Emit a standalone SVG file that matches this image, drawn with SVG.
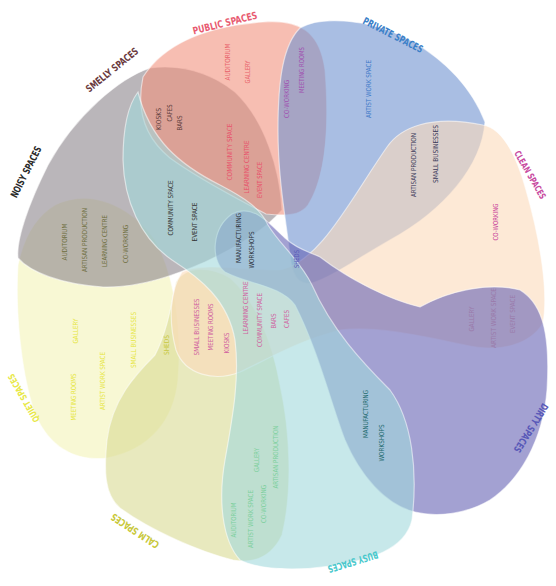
<svg xmlns="http://www.w3.org/2000/svg" width="556" height="586" viewBox="0 0 556 586">
<style>
.p{fill-opacity:0.6;stroke:#ffffff;stroke-opacity:0.55;stroke-width:1.2}
.t{font-family:"DejaVu Sans",sans-serif;font-stretch:condensed;font-weight:normal;font-size:6.8px;text-anchor:middle;dominant-baseline:central}
.L{font-family:"DejaVu Sans",sans-serif;font-stretch:condensed;font-weight:bold;font-size:10px;text-anchor:middle;dominant-baseline:central}
.Ls{font-size:9px}
</style>
<rect width="556" height="586" fill="#ffffff"/>
<g id="petals">
<path id="quiet" class="p" fill="#f3f3b8" d="M55,205 C90,188 130,205 155,240 C175,275 182,330 178,380 C174,420 150,450 107,458 C74,462 46,446 33,408 C21,370 15,310 18,265 C24,235 38,215 55,205 Z"/>
<path id="calm" class="p" fill="#d9da93" d="M233,560 C200,552 150,530 120,508 C104,494 104,470 107,440 C112,400 135,375 155,355 C168,330 172,300 176,282 C185,266 210,266 230,278 C255,300 272,340 280,385 C290,430 293,490 282,535 C272,556 255,564 233,560 Z"/>
<path id="noisy" class="p" fill="#8c868c" d="M150,68 C120,78 75,115 48,165 C28,205 16,240 18,258 C30,272 60,284 103,287 C140,288 175,275 205,262 C235,248 265,230 282,210 C280,170 265,120 235,92 C210,72 180,64 150,68 Z"/>
<path id="public" class="p" fill="#f2937f" d="M143,77 C165,42 210,26 263,22 C300,19 320,32 325,70 C329,120 327,175 308,205 C300,216 285,216 266,214 C240,200 200,180 170,158 C148,140 135,115 143,77 Z"/>
<path id="private" class="p" fill="#7093d0" d="M300,28 C320,16 370,18 410,40 C445,60 472,88 485,122 C482,165 445,210 390,240 C355,260 330,278 312,283 C298,285 292,275 290,255 C286,220 278,180 278,130 C278,80 283,45 300,28 Z"/>
<path id="clean" class="p" fill="#fcdabb" d="M387,147 C400,128 430,114 483,125 C500,128 515,150 526,190 C539,235 549,290 543,323 C530,345 500,352 470,346 C430,338 380,325 340,330 C300,340 270,358 240,372 C215,382 185,375 176,350 C168,320 170,290 182,272 C200,262 240,270 280,270 C320,262 350,200 387,147 Z"/>
<path id="dirty" class="p" fill="#6662b4" d="M420,307 C450,290 490,282 520,290 C545,305 550,340 547,390 C543,440 520,480 490,500 C465,515 435,517 415,512 C385,505 360,475 345,440 C330,400 318,350 295,305 C280,285 250,285 225,272 C210,260 212,228 232,214 C252,203 268,222 285,238 C298,250 310,252 320,257 C350,280 390,300 420,307 Z"/>
<path id="busy" class="p" fill="#a2d9dc" d="M138,92 C150,140 180,165 220,185 C245,198 260,208 268,225 C280,245 300,260 312,285 C332,330 362,362 390,390 C412,420 418,470 412,520 C405,550 370,560 330,566 C290,572 255,568 240,560 C222,540 218,500 225,460 C232,420 240,380 235,340 C228,300 200,278 172,260 C140,238 124,200 123,160 C123,130 128,105 138,92 Z"/>
</g>
<g id="labels">
<text class="L" fill="#e85a70" transform="translate(225 23) rotate(-14)" textLength="66" lengthAdjust="spacingAndGlyphs">PUBLIC SPACES</text>
<text class="L" fill="#3a80c8" transform="translate(393 35) rotate(27)" textLength="66" lengthAdjust="spacingAndGlyphs">PRIVATE SPACES</text>
<text class="L Ls" fill="#c84aa0" transform="translate(530 175) rotate(60)" textLength="54" lengthAdjust="spacingAndGlyphs">CLEAN SPACES</text>
<text class="L" fill="#5858b8" transform="translate(531 428) rotate(122)" textLength="56" lengthAdjust="spacingAndGlyphs">DIRTY SPACES</text>
<text class="L" fill="#48c8cc" transform="translate(353 562) rotate(163)" textLength="52" lengthAdjust="spacingAndGlyphs">BUSY SPACES</text>
<text class="L" fill="#c8c83a" transform="translate(135 531) rotate(213)" textLength="55" lengthAdjust="spacingAndGlyphs">CALM SPACES</text>
<text class="L Ls" fill="#e8e848" transform="translate(24 398) rotate(240)" textLength="54" lengthAdjust="spacingAndGlyphs">QUIET SPACES</text>
<text class="L" fill="#2a2a2a" transform="translate(26 172) rotate(-63)" textLength="56" lengthAdjust="spacingAndGlyphs">NOISY SPACES</text>
<text class="L" fill="#6a3a40" transform="translate(112 70) rotate(-39)" textLength="64" lengthAdjust="spacingAndGlyphs">SMELLY SPACES</text>
</g>
<g id="items">
<text class="t" fill="#e8606a" x="228" y="62" transform="rotate(-90 228 62)" textLength="37" lengthAdjust="spacingAndGlyphs">AUDITORIUM</text>
<text class="t" fill="#e8606a" x="248" y="72" transform="rotate(-90 248 72)" textLength="23" lengthAdjust="spacingAndGlyphs">GALLERY</text>
<text class="t" fill="#a050b0" x="287" y="99" transform="rotate(-90 287 99)" textLength="38" lengthAdjust="spacingAndGlyphs">CO-WORKING</text>
<text class="t" fill="#a050b0" x="302" y="70" transform="rotate(-90 302 70)" textLength="46" lengthAdjust="spacingAndGlyphs">MEETING ROOMS</text>
<text class="t" fill="#3c78c8" x="369" y="89" transform="rotate(-90 369 89)" textLength="58" lengthAdjust="spacingAndGlyphs">ARTIST WORK SPACE</text>
<text class="t" fill="#5a3a3a" x="159" y="119" transform="rotate(-90 159 119)" textLength="22" lengthAdjust="spacingAndGlyphs">KIOSKS</text>
<text class="t" fill="#5a3a3a" x="170" y="113" transform="rotate(-90 170 113)" textLength="17" lengthAdjust="spacingAndGlyphs">CAFES</text>
<text class="t" fill="#5a3a3a" x="180" y="123" transform="rotate(-90 180 123)" textLength="15" lengthAdjust="spacingAndGlyphs">BARS</text>
<text class="t" fill="#e8506a" x="230" y="152" transform="rotate(-90 230 152)" textLength="57" lengthAdjust="spacingAndGlyphs">COMMUNITY SPACE</text>
<text class="t" fill="#e8506a" x="247" y="167" transform="rotate(-90 247 167)" textLength="53" lengthAdjust="spacingAndGlyphs">LEARNING CENTRE</text>
<text class="t" fill="#e8506a" x="260" y="180" transform="rotate(-90 260 180)" textLength="36" lengthAdjust="spacingAndGlyphs">EVENT SPACE</text>
<text class="t" fill="#333333" x="171" y="208" transform="rotate(-90 171 208)" textLength="55" lengthAdjust="spacingAndGlyphs">COMMUNITY SPACE</text>
<text class="t" fill="#333333" x="195" y="222" transform="rotate(-90 195 222)" textLength="39" lengthAdjust="spacingAndGlyphs">EVENT SPACE</text>
<text class="t" fill="#2e3440" x="239" y="238" transform="rotate(-90 239 238)" textLength="50" lengthAdjust="spacingAndGlyphs">MANUFACTURING</text>
<text class="t" fill="#2e3440" x="252" y="250" transform="rotate(-90 252 250)" textLength="37" lengthAdjust="spacingAndGlyphs">WORKSHOPS</text>
<text class="t" fill="#5a5ab8" x="297" y="259" transform="rotate(-90 297 259)" textLength="18" lengthAdjust="spacingAndGlyphs">SHEDS</text>
<text class="t" fill="#6e6e40" x="65" y="242" transform="rotate(-90 65 242)" textLength="37" lengthAdjust="spacingAndGlyphs">AUDITORIUM</text>
<text class="t" fill="#6e6e40" x="85" y="240" transform="rotate(-90 85 240)" textLength="64" lengthAdjust="spacingAndGlyphs">ARTISAN PRODUCTION</text>
<text class="t" fill="#6e6e40" x="105" y="241" transform="rotate(-90 105 241)" textLength="52" lengthAdjust="spacingAndGlyphs">LEARNING CENTRE</text>
<text class="t" fill="#6e6e40" x="126" y="244" transform="rotate(-90 126 244)" textLength="38" lengthAdjust="spacingAndGlyphs">CO-WORKING</text>
<text class="t" fill="#3a3a5a" x="414" y="165" transform="rotate(-90 414 165)" textLength="64" lengthAdjust="spacingAndGlyphs">ARTISAN PRODUCTION</text>
<text class="t" fill="#3a3a5a" x="436" y="154" transform="rotate(-90 436 154)" textLength="58" lengthAdjust="spacingAndGlyphs">SMALL BUSINESSES</text>
<text class="t" fill="#c8409a" x="496" y="222" transform="rotate(-90 496 222)" textLength="37" lengthAdjust="spacingAndGlyphs">CO-WORKING</text>
<text class="t" fill="#9a7aaa" x="472" y="319" transform="rotate(-90 472 319)" textLength="25" lengthAdjust="spacingAndGlyphs">GALLERY</text>
<text class="t" fill="#9a7aaa" x="494" y="318" transform="rotate(-90 494 318)" textLength="60" lengthAdjust="spacingAndGlyphs">ARTIST WORK SPACE</text>
<text class="t" fill="#9a7aaa" x="513" y="314" transform="rotate(-90 513 314)" textLength="38" lengthAdjust="spacingAndGlyphs">EVENT SPACE</text>
<text class="t" fill="#e6e640" x="76" y="331" transform="rotate(-90 76 331)" textLength="25" lengthAdjust="spacingAndGlyphs">GALLERY</text>
<text class="t" fill="#e6e640" x="74" y="397" transform="rotate(-90 74 397)" textLength="47" lengthAdjust="spacingAndGlyphs">MEETING ROOMS</text>
<text class="t" fill="#e6e640" x="103" y="381" transform="rotate(-90 103 381)" textLength="58" lengthAdjust="spacingAndGlyphs">ARTIST WORK SPACE</text>
<text class="t" fill="#e6e640" x="134" y="340" transform="rotate(-90 134 340)" textLength="56" lengthAdjust="spacingAndGlyphs">SMALL BUSINESSES</text>
<text class="t" fill="#c8c840" x="167" y="345" transform="rotate(-90 167 345)" textLength="20" lengthAdjust="spacingAndGlyphs">SHEDS</text>
<text class="t" fill="#d060a0" x="197" y="327" transform="rotate(-90 197 327)" textLength="57" lengthAdjust="spacingAndGlyphs">SMALL BUSINESSES</text>
<text class="t" fill="#d060a0" x="211" y="327" transform="rotate(-90 211 327)" textLength="47" lengthAdjust="spacingAndGlyphs">MEETING ROOMS</text>
<text class="t" fill="#d060a0" x="227" y="343" transform="rotate(-90 227 343)" textLength="21" lengthAdjust="spacingAndGlyphs">KIOSKS</text>
<text class="t" fill="#d060a0" x="246" y="308" transform="rotate(-90 246 308)" textLength="53" lengthAdjust="spacingAndGlyphs">LEARNING CENTRE</text>
<text class="t" fill="#d060a0" x="260" y="320" transform="rotate(-90 260 320)" textLength="54" lengthAdjust="spacingAndGlyphs">COMMUNITY SPACE</text>
<text class="t" fill="#d060a0" x="274" y="321" transform="rotate(-90 274 321)" textLength="15" lengthAdjust="spacingAndGlyphs">BARS</text>
<text class="t" fill="#d060a0" x="287" y="319" transform="rotate(-90 287 319)" textLength="18" lengthAdjust="spacingAndGlyphs">CAFES</text>
<text class="t" fill="#7ccf9c" x="234" y="520" transform="rotate(-90 234 520)" textLength="35" lengthAdjust="spacingAndGlyphs">AUDITORIUM</text>
<text class="t" fill="#7ccf9c" x="251" y="519" transform="rotate(-90 251 519)" textLength="58" lengthAdjust="spacingAndGlyphs">ARTIST WORK SPACE</text>
<text class="t" fill="#7ccf9c" x="264" y="504" transform="rotate(-90 264 504)" textLength="38" lengthAdjust="spacingAndGlyphs">CO-WORKING</text>
<text class="t" fill="#7ccf9c" x="257" y="460" transform="rotate(-90 257 460)" textLength="24" lengthAdjust="spacingAndGlyphs">GALLERY</text>
<text class="t" fill="#7ccf9c" x="276" y="457" transform="rotate(-90 276 457)" textLength="63" lengthAdjust="spacingAndGlyphs">ARTISAN PRODUCTION</text>
<text class="t" fill="#1f6a6e" x="366" y="414" transform="rotate(-90 366 414)" textLength="48" lengthAdjust="spacingAndGlyphs">MANUFACTURING</text>
<text class="t" fill="#1f6a6e" x="382" y="443" transform="rotate(-90 382 443)" textLength="37" lengthAdjust="spacingAndGlyphs">WORKSHOPS</text>
</g>
</svg>
